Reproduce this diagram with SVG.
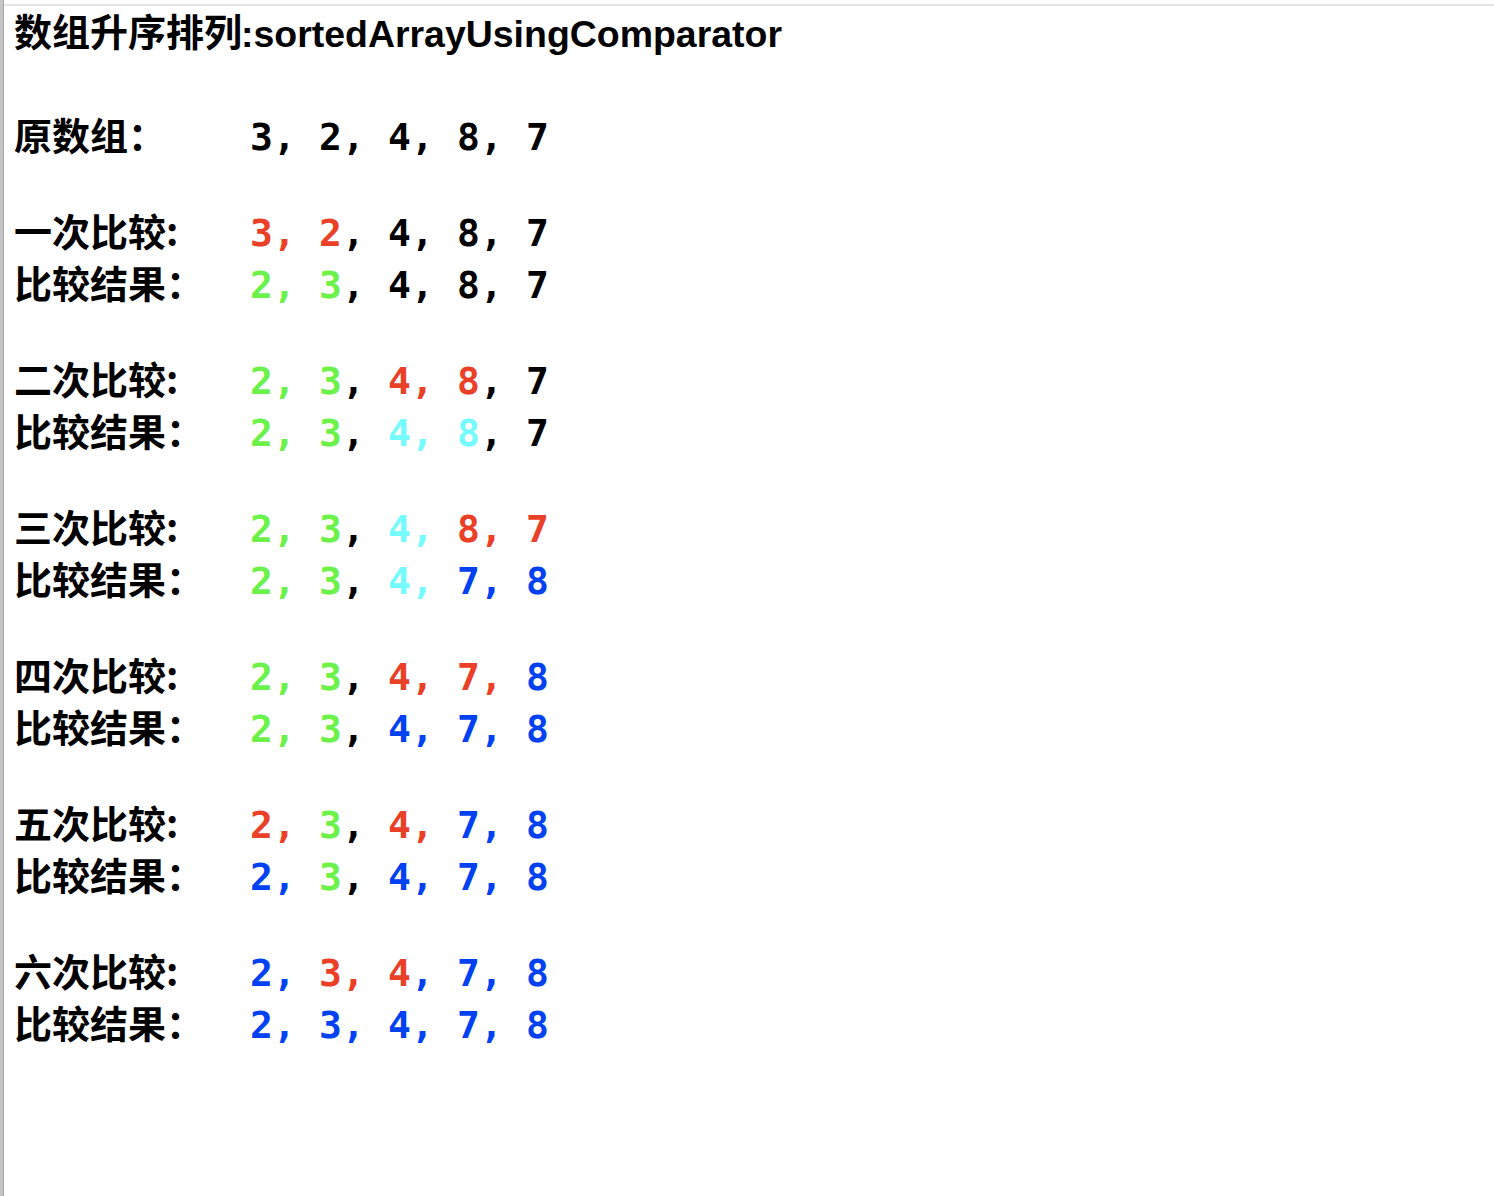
<svg xmlns="http://www.w3.org/2000/svg" width="1494" height="1196" viewBox="0 0 1494 1196">
<style>
.lab{font-family:"Noto Sans CJK SC","Noto Sans",sans-serif;font-weight:700;font-size:38px;fill:#000}
.ttl{font-family:"Liberation Sans",Arial,sans-serif;font-weight:700;font-size:37px;fill:#000}
.num{font-family:"DejaVu Sans Mono","Liberation Mono",monospace;font-weight:700;font-size:38px;fill:#000}
.r{fill:#EA4027}.g{fill:#6CF24B}.c{fill:#75FAFD}.b{fill:#0041F4}.k{fill:#000}
</style>
<rect width="1494" height="1196" fill="#fff"/>
<g id="frame">
<rect x="0" y="0" width="3" height="1196" fill="#c4c4c4"/>
<rect x="3" y="0" width="1" height="1196" fill="#a6a6a6"/>
<rect x="4" y="4" width="1490" height="2" fill="#e4e4e4"/>
</g>
<g id="title">
<text class="lab" x="14" y="46">数组升序排列</text>
<text class="ttl" x="241" y="47" textLength="541" lengthAdjust="spacingAndGlyphs">:sortedArrayUsingComparator</text>
</g>
<g id="labels">
<text class="lab" x="14" y="150">原数组：</text>
<text class="lab" x="14" y="246">一次比较:</text>
<text class="lab" x="14" y="298">比较结果：</text>
<text class="lab" x="14" y="394">二次比较:</text>
<text class="lab" x="14" y="446">比较结果：</text>
<text class="lab" x="14" y="542">三次比较:</text>
<text class="lab" x="14" y="594">比较结果：</text>
<text class="lab" x="14" y="690">四次比较:</text>
<text class="lab" x="14" y="742">比较结果：</text>
<text class="lab" x="14" y="838">五次比较:</text>
<text class="lab" x="14" y="890">比较结果：</text>
<text class="lab" x="14" y="986">六次比较:</text>
<text class="lab" x="14" y="1038">比较结果：</text>
</g>
<g id="values">
<text class="num" y="150"><tspan x="250">3,</tspan><tspan x="319">2,</tspan><tspan x="388">4,</tspan><tspan x="457">8,</tspan><tspan x="526">7</tspan></text>
<text class="num" y="246"><tspan x="250" class="r">3,</tspan><tspan x="319" class="r">2</tspan><tspan class="k">,</tspan><tspan x="388">4,</tspan><tspan x="457">8,</tspan><tspan x="526">7</tspan></text>
<text class="num" y="298"><tspan x="250" class="g">2,</tspan><tspan x="319" class="g">3</tspan><tspan class="k">,</tspan><tspan x="388">4,</tspan><tspan x="457">8,</tspan><tspan x="526">7</tspan></text>
<text class="num" y="394"><tspan x="250" class="g">2,</tspan><tspan x="319" class="g">3</tspan><tspan class="k">,</tspan><tspan x="388" class="r">4,</tspan><tspan x="457" class="r">8</tspan><tspan class="k">,</tspan><tspan x="526">7</tspan></text>
<text class="num" y="446"><tspan x="250" class="g">2,</tspan><tspan x="319" class="g">3</tspan><tspan class="k">,</tspan><tspan x="388" class="c">4,</tspan><tspan x="457" class="c">8</tspan><tspan class="k">,</tspan><tspan x="526">7</tspan></text>
<text class="num" y="542"><tspan x="250" class="g">2,</tspan><tspan x="319" class="g">3</tspan><tspan class="k">,</tspan><tspan x="388" class="c">4,</tspan><tspan x="457" class="r">8,</tspan><tspan x="526" class="r">7</tspan></text>
<text class="num" y="594"><tspan x="250" class="g">2,</tspan><tspan x="319" class="g">3</tspan><tspan class="k">,</tspan><tspan x="388" class="c">4,</tspan><tspan x="457" class="b">7,</tspan><tspan x="526" class="b">8</tspan></text>
<text class="num" y="690"><tspan x="250" class="g">2,</tspan><tspan x="319" class="g">3</tspan><tspan class="k">,</tspan><tspan x="388" class="r">4,</tspan><tspan x="457" class="r">7,</tspan><tspan x="526" class="b">8</tspan></text>
<text class="num" y="742"><tspan x="250" class="g">2,</tspan><tspan x="319" class="g">3</tspan><tspan class="k">,</tspan><tspan x="388" class="b">4,</tspan><tspan x="457" class="b">7,</tspan><tspan x="526" class="b">8</tspan></text>
<text class="num" y="838"><tspan x="250" class="r">2,</tspan><tspan x="319" class="g">3</tspan><tspan class="k">,</tspan><tspan x="388" class="r">4,</tspan><tspan x="457" class="b">7,</tspan><tspan x="526" class="b">8</tspan></text>
<text class="num" y="890"><tspan x="250" class="b">2,</tspan><tspan x="319" class="g">3</tspan><tspan class="k">,</tspan><tspan x="388" class="b">4,</tspan><tspan x="457" class="b">7,</tspan><tspan x="526" class="b">8</tspan></text>
<text class="num" y="986"><tspan x="250" class="b">2,</tspan><tspan x="319" class="r">3,</tspan><tspan x="388" class="r">4</tspan><tspan class="b">,</tspan><tspan x="457" class="b">7,</tspan><tspan x="526" class="b">8</tspan></text>
<text class="num" y="1038"><tspan x="250" class="b">2,</tspan><tspan x="319" class="b">3,</tspan><tspan x="388" class="b">4,</tspan><tspan x="457" class="b">7,</tspan><tspan x="526" class="b">8</tspan></text>
</g>
</svg>
